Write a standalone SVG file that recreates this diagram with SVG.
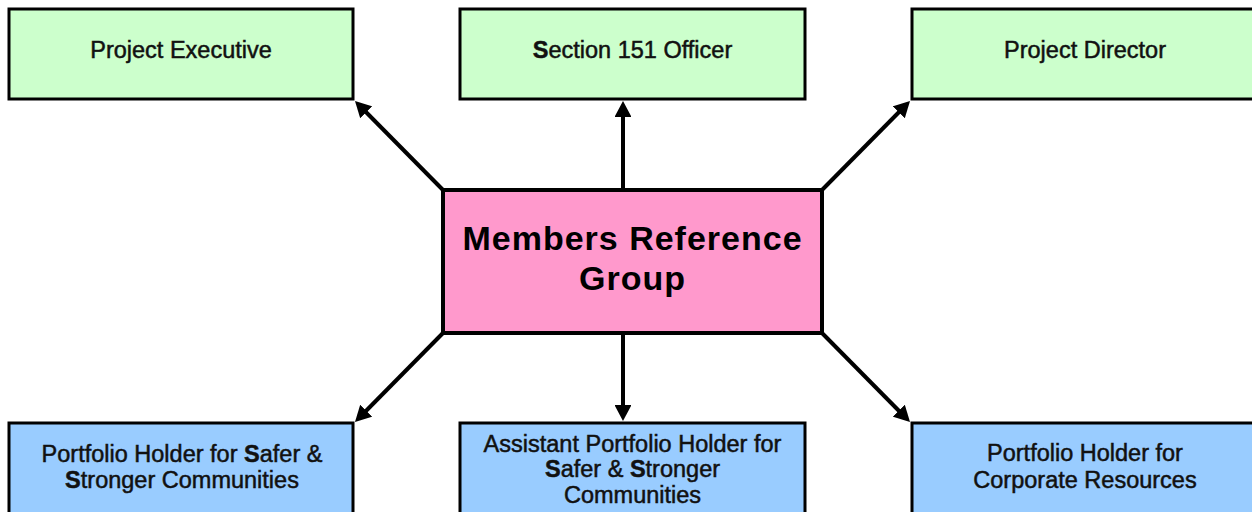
<svg xmlns="http://www.w3.org/2000/svg" width="1252" height="512" viewBox="0 0 1252 512">
  <style>
    .box { stroke: #000; stroke-width: 3; }
    .green { fill: #CCFFCC; }
    .blue { fill: #99CCFF; }
    .pink { fill: #FF99CC; stroke: #000; stroke-width: 4; }
    .lbl { font-family: "Liberation Sans", Arial, sans-serif; font-size: 23.5px; fill: #111; stroke: #111; stroke-width: 0.5; text-anchor: middle; }
    .b { font-weight: bold; }
    .title { font-family: "Liberation Sans", Arial, sans-serif; font-size: 34px; font-weight: bold; fill: #000; letter-spacing: 1px; text-anchor: middle; }
    .conn { stroke: #000; stroke-width: 4; fill: none; marker-end: url(#arrow); }
  </style>
  <defs>
    <marker id="arrow" viewBox="0 0 10 10.6" markerWidth="4" markerHeight="4.24" refX="6.875" refY="5.3" orient="auto">
      <path d="M0,0 L10,5.3 L0,10.6 z" fill="#000"/>
    </marker>
  </defs>
  <rect width="1252" height="512" fill="#fff"/>

  <g id="connectors">
    <line class="conn" x1="443" y1="190" x2="358.5" y2="104.5"/>
    <line class="conn" x1="623" y1="190" x2="623" y2="106"/>
    <line class="conn" x1="822" y1="190" x2="906.5" y2="104.5"/>
    <line class="conn" x1="443" y1="333" x2="358.5" y2="418.5"/>
    <line class="conn" x1="623" y1="333" x2="623" y2="416"/>
    <line class="conn" x1="822" y1="333" x2="906.5" y2="418.5"/>
  </g>

  <g id="project-executive">
    <rect class="box green" x="9" y="9" width="344" height="90"/>
    <text class="lbl" x="181" y="58">Project Executive</text>
  </g>
  <g id="section-151-officer">
    <rect class="box green" x="460" y="9" width="345" height="90"/>
    <text class="lbl" x="632.5" y="58"><tspan class="b">S</tspan>ection 151 Officer</text>
  </g>
  <g id="project-director">
    <rect class="box green" x="912" y="9" width="346" height="90"/>
    <text class="lbl" x="1085" y="58">Project Director</text>
  </g>

  <g id="members-reference-group">
    <rect class="pink" x="443" y="190" width="379" height="143"/>
    <text class="title" x="632.5" y="250">Members Reference</text>
    <text class="title" x="632.5" y="290">Group</text>
  </g>

  <g id="portfolio-holder-safer">
    <rect class="box blue" x="9" y="423" width="344" height="100"/>
    <text class="lbl" x="182" y="462">Portfolio Holder for <tspan class="b">S</tspan>afer &amp;</text>
    <text class="lbl" x="182" y="488"><tspan class="b">S</tspan>tronger Communities</text>
  </g>
  <g id="assistant-portfolio-holder">
    <rect class="box blue" x="460" y="423" width="345" height="100"/>
    <text class="lbl" x="632.5" y="452">Assistant Portfolio Holder for</text>
    <text class="lbl" x="632.5" y="477"><tspan class="b">S</tspan>afer &amp; <tspan class="b">S</tspan>tronger</text>
    <text class="lbl" x="632.5" y="503">Communities</text>
  </g>
  <g id="portfolio-holder-corporate">
    <rect class="box blue" x="912" y="423" width="346" height="100"/>
    <text class="lbl" x="1085" y="461">Portfolio Holder for</text>
    <text class="lbl" x="1085" y="488">Corporate Resources</text>
  </g>
</svg>
